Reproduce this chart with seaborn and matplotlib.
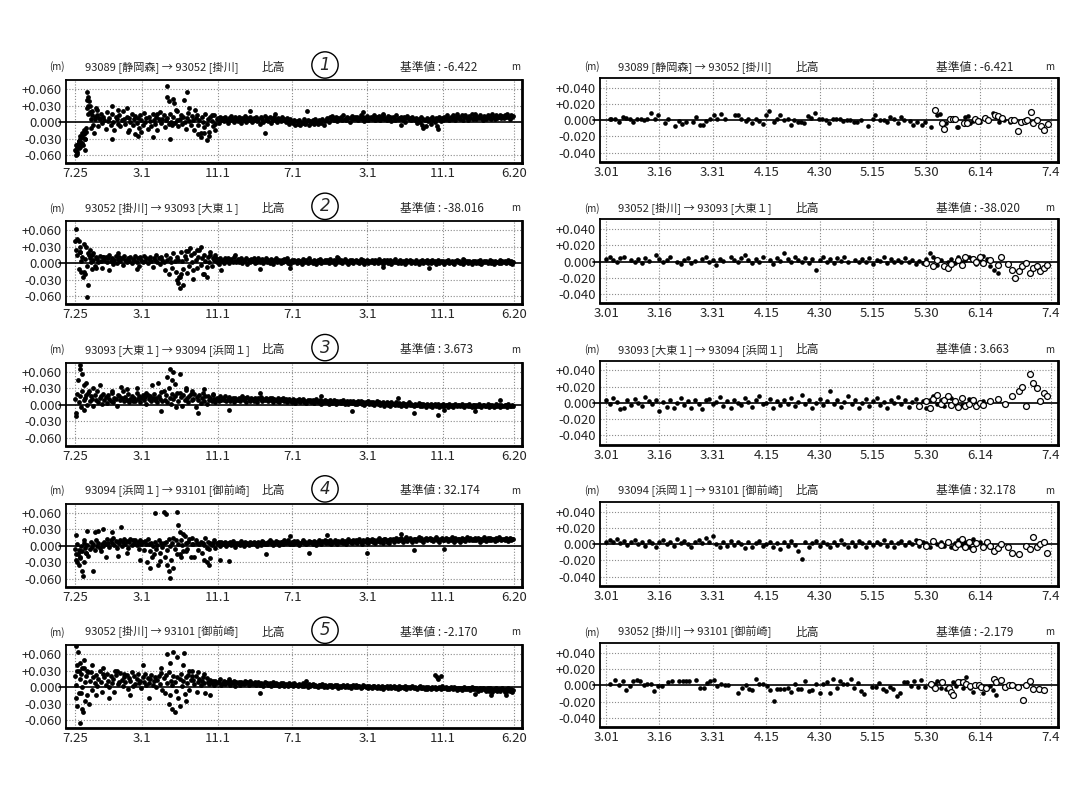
import numpy as np
import pandas as pd
import matplotlib
matplotlib.use("Agg")
import matplotlib.pyplot as plt
import seaborn as sns

# ------------------------------------------------------------------ data
LEFT_START = "1997-07-25"
LEFT_END = "2001-06-20"
LEFT_TICK_DATES = ["1997-07-25", "1998-03-01", "1998-11-01", "1999-07-01",
                   "2000-03-01", "2000-11-01", "2001-06-20"]
LEFT_TICK_LABELS = ["7.25", "3.1", "11.1", "7.1", "3.1", "11.1", "6.20"]
RIGHT_START = "2001-03-01"
RIGHT_TICK_DATES = ["2001-03-01", "2001-03-16", "2001-03-31", "2001-04-15", "2001-04-30",
                    "2001-05-15", "2001-05-30", "2001-06-14", "2001-07-04"]
RIGHT_TICK_LABELS = ["3.01", "3.16", "3.31", "4.15", "4.30", "5.15", "5.30", "6.14", "7.4"]
LEFT_YTICKS = [-0.06, -0.03, 0.0, 0.03, 0.06]
LEFT_YTICK_LABELS = ["-0.060", "-0.030", "0.000", "+0.030", "+0.060"]
RIGHT_YTICKS = [-0.04, -0.02, 0.0, 0.02, 0.04]
RIGHT_YTICK_LABELS = ["-0.040", "-0.020", "0.000", "+0.020", "+0.040"]

routes = ["93089 [静岡森] → 93052 [掛川]",
          "93052 [掛川] → 93093 [大東１]",
          "93093 [大東１] → 93094 [浜岡１]",
          "93094 [浜岡１] → 93101 [御前崎]",
          "93052 [掛川] → 93101 [御前崎]"]
left_base = ["-6.422", "-38.016", "3.673", "32.174", "-2.170"]
right_base = ["-6.421", "-38.020", "3.663", "32.178", "-2.179"]
panel_marks = ["1", "2", "3", "4", "5"]

LEFT_STEP_DAYS = 4  # bulk series: one value every 4 days (mm)

p1_bulk = [-50,-42,-55,-35,-45,-28,-38,-20,-30,-10,40,15,
           30,5,20,-5,10,25,12,-8,6,15,-2,9,
           4,-12,18,2,8,-6,14,0,-15,10,5,-3,
           12,-8,3,20,6,-4,9,-18,7,1,15,-6,
           5,11,-2,8,-10,13,3,-5,16,0,7,-12,
           10,2,-7,14,4,-3,9,-14,6,18,-1,5,
           12,-9,3,8,-4,15,1,-6,10,-2,22,4,
           -8,6,13,-3,9,0,-12,7,17,2,-5,11,
           3,-15,8,12,-6,4,-20,10,1,-9,14,-3,
           6,-18,9,2,-7,12,-4,5,8,-2,10,3,
           7,2,10,4,-1,8,3,11,5,0,9,6,
           2,10,5,-2,8,4,11,1,7,3,9,5,
           0,8,4,10,2,6,-3,9,5,1,11,4,
           7,2,9,-1,6,3,10,4,0,8,5,2,
           9,4,6,0,7,3,-4,5,1,-2,4,-5,
           2,-3,4,-6,1,-2,5,-4,0,3,-5,2,
           -1,4,-3,6,0,-4,3,1,-2,5,-6,2,
           4,8,1,9,5,11,3,7,10,2,8,6,
           9,4,12,6,3,10,7,1,8,11,5,9,
           6,10,3,8,12,5,9,2,7,11,4,8,
           10,5,7,13,3,9,6,11,4,8,12,6,
           8,3,11,6,9,2,10,7,4,12,5,8,
           6,10,4,9,1,7,11,5,8,3,10,6,
           4,8,-2,6,1,9,-6,5,3,-8,7,2,
           6,-4,9,3,0,7,-7,5,10,2,8,4,
           9,5,12,7,3,10,6,13,8,4,11,7,
           10,6,13,4,9,12,7,3,11,8,14,6,
           9,12,5,10,7,13,8,4,11,9,6,12,
           8,11,6,14,9,5,12,7,10,13,8,11,
           7,12,9,14,10,6,13,9,11]
p1_extra = [(2,-60),(4,-52),(6,-45),(8,-58),(10,-40),(12,-35),(14,-48),(16,-30),(18,-25),
            (20,-38),(22,-28),(24,-20),(26,-42),(28,-22),(30,-15),(32,-30),(34,-50),(36,-18),
            (38,25),(40,55),(42,45),(44,30),(46,38),(48,18),(52,-10),(56,12),(62,-20),(66,5),
            (72,22),(78,8),(120,30),(122,-30),(140,22),(168,25),(175,-15),(195,-22),(205,-25),
            (215,-18),(253,-28),(265,15),(300,65),(298,45),(304,38),(310,-30),(318,42),(322,35),
            (330,20),(355,40),(365,55),(372,25),(390,22),(400,-22),(408,-28),(420,-20),(430,-33),
            (436,-25),(445,12),(455,-15),(568,20),(617,-20),(650,15),(753,20),(935,18),(1000,15),
            (1060,-5),(1130,-10),(1180,-12),(1240,15),(1300,14)]

p2_bulk = [40,25,15,-10,20,5,12,-15,8,30,-5,18,
           10,3,15,6,-5,12,8,2,14,5,-8,11,
           7,12,3,9,15,4,10,-2,6,13,1,8,
           11,4,9,-3,14,7,2,10,5,12,0,8,
           6,13,3,9,-4,11,7,2,14,5,10,1,
           8,12,4,-6,10,6,15,2,9,-2,11,7,
           3,-12,15,6,-20,10,2,-8,18,5,-15,12,
           6,-25,20,4,-10,14,8,-18,22,-5,15,3,
           -12,18,6,-8,12,25,-3,10,-20,16,4,-6,
           12,3,15,-4,9,6,11,2,8,-2,10,5,
           7,1,9,4,10,0,6,8,2,11,5,3,
           8,2,6,10,1,7,4,9,-1,6,3,8,
           5,9,1,7,3,10,2,6,8,0,5,9,
           3,7,1,8,4,-1,6,9,2,5,7,0,
           6,2,8,4,9,1,5,-2,7,3,6,4,
           1,7,3,5,-1,8,4,2,6,0,9,3,
           5,1,7,4,-2,6,3,8,1,5,2,7,
           3,6,0,8,4,2,7,-1,5,3,9,2,
           6,1,4,8,2,5,-1,7,3,6,0,4,
           7,2,5,1,8,3,6,-2,4,7,1,5,
           2,6,3,0,7,4,1,8,2,5,-1,6,
           3,7,1,4,6,-1,5,2,8,3,0,4,
           6,1,5,3,-2,7,2,4,6,0,5,3,
           1,6,3,-1,5,2,7,0,4,3,6,1,
           4,0,6,2,5,-2,3,7,1,4,2,5,
           -1,4,2,6,0,3,5,1,-2,4,6,2,
           5,1,3,-1,6,2,4,0,5,3,-2,4,
           2,5,0,4,1,6,-1,3,5,2,4,0,
           3,6,1,4,-2,5,2,3,0,6,1,4,
           2,5,0,3,6,1,4,-1,3]
p2_extra = [(3,62),(8,45),(12,40),(15,30),(18,20),(20,-15),(25,-25),(28,35),(32,-20),(38,-62),
            (42,-40),(45,15),(50,25),(55,-10),(60,18),(70,-8),(90,12),(110,-12),(140,18),(200,-10),
            (330,-30),(335,-35),(340,-45),(338,-25),(345,-20),(350,-40),(360,22),(375,28),(385,-28),
            (395,25),(410,30),(420,-20),(430,-25),(440,20),(455,15),(475,-12),(520,15),(600,-10),
            (700,-8),(850,12),(1000,-6),(1150,-8),(1260,8)]

p3_bulk = [10,-15,20,5,15,-5,25,8,12,18,0,22,
           6,15,10,-3,18,8,24,4,12,16,2,20,
           9,14,3,18,11,7,22,5,13,10,-2,17,
           16,8,12,24,6,14,9,19,4,11,15,7,
           13,7,21,10,15,5,12,18,8,14,2,17,
           10,16,6,13,20,9,12,4,15,11,23,7,
           25,8,18,5,30,12,2,20,10,15,-4,22,
           6,22,14,-2,18,9,26,12,4,16,20,8,
           10,20,-5,14,8,18,3,12,22,7,15,1,
           15,9,12,6,17,10,4,13,11,7,16,9,
           12,9,15,6,11,14,7,10,13,5,12,9,
           9,13,6,11,15,8,12,5,14,10,7,13,
           11,7,13,9,5,12,10,14,6,11,8,12,
           10,6,12,8,13,5,11,9,7,12,4,10,
           8,12,6,10,4,9,11,7,5,10,8,3,
           9,6,10,4,8,11,5,7,3,9,6,8,
           5,9,3,7,10,4,6,8,2,7,5,9,
           4,7,2,8,5,3,9,6,1,6,4,7,
           3,6,8,2,5,7,1,6,4,3,7,2,
           5,1,6,3,7,2,4,0,5,3,6,1,
           4,2,5,-1,3,6,1,4,0,3,5,-2,
           2,4,0,3,-2,5,1,2,-1,4,0,3,
           1,-2,3,0,2,-3,1,4,-1,2,0,-2,
           2,-1,0,3,-3,1,-2,2,0,-4,1,-1,
           -2,1,-4,0,2,-3,-1,1,-5,0,-2,1,
           -3,0,-1,-4,2,-2,0,-5,-1,1,-3,-1,
           0,-3,1,-2,-4,0,-1,-3,2,-2,-5,0,
           -1,-4,0,-2,1,-3,-5,-1,0,-3,-2,1,
           -4,-1,-2,0,-5,-2,1,-3,-1,-4,0,-2,
           -3,0,-1,-4,1,-2,-3,0,-2]
p3_extra = [(5,-20),(10,45),(15,65),(18,72),(22,55),(28,35),(30,-10),(35,40),(45,25),(60,30),
            (80,35),(120,25),(150,32),(170,28),(200,30),(230,22),(250,35),(270,40),(280,-12),
            (300,50),(310,65),(315,45),(320,60),(325,38),(340,55),(360,30),(380,25),(400,-15),
            (420,28),(450,20),(500,-10),(600,22),(800,15),(900,-12),(1050,12),(1100,-15),
            (1180,-18),(1200,-10),(1300,-12),(1380,8)]

p4_bulk = [-5,-15,3,-8,-20,0,-10,5,-3,-12,2,-18,
           -6,8,-2,4,-8,10,0,6,-4,-10,3,-1,
           8,3,12,5,-2,10,6,14,2,9,-3,7,
           5,11,0,8,13,4,9,-3,7,12,1,10,
           6,10,2,8,-5,11,4,7,-8,9,3,12,
           3,-10,6,0,-15,8,-5,2,10,-12,5,-2,
           5,-20,8,-8,12,0,-25,6,15,-5,10,-14,
           3,-15,10,2,-10,18,5,-6,8,12,-20,4,
           4,-20,10,6,-8,3,8,-12,5,2,14,-4,
           7,-6,6,1,5,10,-3,6,4,7,-1,8,
           3,5,8,-1,6,4,7,1,9,3,-2,6,
           6,4,2,9,5,-1,8,4,6,2,7,3,
           5,8,3,6,-1,8,5,2,9,7,4,6,
           4,8,10,5,7,1,6,9,5,7,2,8,
           8,4,10,5,7,11,6,3,8,4,9,6,
           9,6,1,5,7,10,6,8,3,5,9,7,
           8,4,9,7,2,8,10,6,3,9,7,11,
           6,9,5,10,3,8,7,11,6,4,9,7,
           8,11,6,9,4,8,12,7,9,5,10,8,
           11,6,9,12,8,4,10,9,7,12,6,10,
           9,12,7,10,5,11,9,14,8,10,6,12,
           12,8,11,6,13,10,12,7,11,15,9,12,
           10,14,8,11,12,16,9,12,14,10,7,13,
           13,9,12,16,10,14,11,8,13,15,10,12,
           15,11,13,9,12,16,10,13,8,12,15,11,
           11,15,12,9,13,10,16,12,8,14,11,13,
           12,8,14,11,13,9,16,12,10,15,11,13,
           10,14,11,15,12,8,13,11,16,12,9,14,
           11,15,10,13,12,9,14,11,16,12,10,13,
           13,10,14,12,9,15,11,13,12]
p4_extra = [(2,-25),(5,20),(8,-30),(10,-15),(12,-35),(15,-22),(18,-10),(22,-45),(25,-55),(28,-30),
            (30,10),(35,-12),(40,28),(60,-45),(65,25),(75,28),(90,30),(100,-20),(120,25),(140,-18),
            (150,35),(170,-12),(210,-25),(235,-30),(245,-40),(250,-20),(260,60),(270,-35),
            (275,-28),(290,62),(295,58),(300,-35),(305,-45),(310,-58),(320,-40),(330,62),(335,38),
            (340,25),(345,-20),(350,22),(360,-10),(380,15),(420,-25),(430,-30),(435,-35),(440,-22),
            (470,-25),(500,-28),(620,-15),(700,18),(760,-12),(820,20),(950,-12),(1060,22),
            (1100,-8),(1200,-5)]

p5_bulk = [20,5,30,-10,15,25,0,35,10,20,-15,28,
           12,28,-5,18,8,22,3,15,30,10,-8,24,
           18,5,25,12,0,20,8,15,-8,22,30,6,
           10,26,14,3,18,9,22,-4,16,11,28,2,
           20,6,15,24,8,12,-2,18,10,25,5,16,
           8,15,22,4,12,18,0,14,20,6,26,-5,
           16,-10,22,8,28,-15,12,5,20,10,-6,18,
           -20,15,25,3,12,-12,18,8,22,-5,14,30,
           14,6,20,-8,10,15,4,12,18,7,-10,16,
           10,6,13,8,11,5,12,7,9,10,15,4,
           8,11,6,10,7,12,5,9,8,11,3,10,
           7,10,5,9,8,6,11,7,9,5,12,6,
           8,6,10,4,7,9,5,8,6,3,9,7,
           7,5,8,3,6,9,4,7,5,6,2,8,
           4,7,3,6,5,2,7,4,6,3,8,5,
           5,2,6,4,3,7,2,5,4,1,6,3,
           4,6,2,5,3,1,5,4,2,6,0,5,
           3,1,5,2,4,0,3,5,2,4,-1,3,
           1,3,5,0,2,4,1,3,-1,2,4,0,
           4,0,2,3,-1,1,4,2,0,3,-2,2,
           1,-1,3,2,0,-2,2,1,-1,3,-3,1,
           0,2,-1,1,3,-2,0,2,-1,1,-4,2,
           -2,1,0,-1,2,-3,0,1,-2,0,3,-1,
           1,-1,-3,0,2,-2,-1,1,-3,0,-4,1,
           -1,-3,0,-2,1,-4,-1,-2,0,-3,2,-2,
           -2,0,-4,-1,-3,1,-2,-4,0,-1,-5,-2,
           -3,-1,-5,-2,0,-3,-4,-1,-2,-5,1,-3,
           -2,-4,-1,-6,-3,-2,-5,-1,-4,-3,-7,-2,
           -6,-2,-4,-8,-3,-5,-1,-6,-3,-7,-4,-2,
           -5,-8,-3,-6,-2,-7,-4,-9,-5]
p5_extra = [(2,75),(4,-20),(6,40),(8,-35),(10,65),(14,30),(16,-65),(18,45),(20,-10),(22,-40),
            (24,35),(26,-45),(30,50),(34,-25),(40,30),(45,-30),(55,40),(70,-15),(90,35),(110,-20),
            (130,30),(160,25),(180,-15),(220,40),(240,-20),(280,35),(300,60),(305,-30),(310,45),
            (315,-40),(320,65),(325,-45),(330,55),(340,-35),(350,40),(355,62),(360,-25),(370,30),
            (380,20),(400,28),(420,25),(440,-15),(500,15),(600,-10),(750,12),(1170,22),(1175,18),
            (1180,15),(1190,20),(1300,-12),(1350,-15),(1400,-14)]

# right panels: (day since 3.01, mm); filled = solid dots, open = open circles
r1_fill = [(1,2),(1.5,2),(2.5,2),(3.7,-2),(4.7,4),(5.6,3),(6.7,2),(7.6,-2),(8.8,1),(9.8,2),(10.8,0),
           (11.6,2),(12.5,9),(13.7,2),(14.7,7),(16.5,-3),(17.5,2),(19.4,-7),(20.4,-1),(21.4,-5),
           (22.4,-2),(24.5,-2),(25.3,4),(26.3,-6),(27.3,-6),(28.2,-1),(29.2,2),(30.2,7),(31.2,2),
           (32.2,8),(33.3,2),(36.1,7),(37.1,6),(38,2),(39.2,-1),(40,2),(41,-4),(42,1),(43.1,-1),
           (44.1,-5),(44.9,6),(45.9,11),(47.1,-2),(48,2),(49,7),(50,0),(51,2),(52,-6),(52.9,0),
           (53.9,-2),(54.7,-2),(55.7,-3),(56.7,5),(57.6,3),(58.8,9),(59.8,2),(60.8,1),(61.8,0),
           (62.7,-3),(63.7,2),(64.7,2),(65.7,1),(66.7,-1),(67.6,0),(68.6,0),(69.6,-2),(70.6,-2),
           (71.6,0),(73.7,-7),(75,1),(75.7,7),(77,0),(78,0),(78.9,-2),(79.9,4),(80.9,2),(81.9,-3),
           (82.9,4),(83.8,0),(85.3,-1),(86.3,-6),(87.3,-2),(88.7,-6),(89.7,-2),(91.4,-8),(93,6),
           (93.9,8),(94.6,-6),(95.6,-3),(98.5,-8),(99,-8),(100.8,4),(101.7,5),(102.3,-3),
           (103.2,-1),(105,-2),(108.6,9),(110.5,-2),(111.8,0),(113.5,-2)]
r1_open = [(92.5,13),(94.3,-4),(95.1,-11),(96.7,1),(97.5,2),(98,1),(100.5,-3),(101.5,-3),(103.7,1),
           (104.4,-1),(106.4,3),(107.4,0),(109.3,7),(110.2,5),(111.3,3),(113.7,0),(114.7,0),
           (115.7,-13),(116.7,-2),(117.8,-1),(118.4,0),(119.5,10),(120.1,-3),(121,0),(122.3,-7),
           (123.2,-12),(124.2,-5)]

r2_fill = [(0,3),(1,5),(2,2),(3,-1),(4,4),(5,6),(7,2),(8,0),(9,3),(10,-2),(11,4),(12,1),(14,8),
           (15,3),(16,-1),(17,2),(18,5),(20,0),(21,-3),(22,2),(23,4),(24,-2),(25,1),(27,3),(28,6),
           (29,0),(30,2),(31,-4),(32,3),(33,1),(35,5),(36,2),(37,-1),(38,4),(39,8),(40,2),(41,-2),
           (42,3),(43,0),(44,5),(46,2),(47,-3),(48,4),(49,1),(50,10),(51,3),(52,-1),(53,6),(54,2),
           (55,0),(56,4),(57,-2),(58,3),(59,-10),(60,2),(61,5),(62,0),(63,3),(64,-2),(65,4),(66,1),
           (67,6),(68,0),(70,2),(71,-1),(72,3),(73,0),(74,4),(75,-3),(76,2),(77,1),(78,5),(79,-2),
           (80,3),(81,0),(82,2),(83,-1),(84,4),(85,0),(86,2),(87,-3),(88,1),(89,-2),(90,3),(91,10),
           (92,6),(93,-4),(94,2),(95,-5),(96,0),(97,3),(98,-2),(99,5),(100,-1),(101,2),(102,6),
           (103,4),(104,-3),(105,1),(106,7),(107,3),(108,-6),(109,-10),(110,-14)]
r2_open = [(90,-2),(92,-6),(93,2),(95,-5),(96,-8),(97,-3),(99,2),(100,-4),(101,6),(103,3),(104,0),
           (105,5),(106,-2),(108,2),(110,-4),(111,5),(113,-3),(114,-10),(115,-20),(116,-12),
           (117,-6),(118,-2),(119,-14),(120,-8),(121,-5),(122,-12),(123,-8),(124,-4)]

r3_fill = [(0,4),(1,-2),(2,6),(3,1),(4,-8),(5,-6),(6,3),(7,-3),(8,5),(9,0),(10,-4),(11,7),(12,2),
           (13,-2),(14,4),(15,-10),(16,1),(17,-5),(18,3),(19,-7),(20,0),(21,6),(22,-3),(23,2),
           (24,-6),(25,4),(26,-1),(27,-8),(28,3),(29,5),(30,-2),(31,1),(32,7),(33,-4),(34,2),
           (35,-6),(36,4),(37,0),(38,-3),(39,6),(40,1),(41,-5),(42,3),(43,8),(44,-2),(45,0),(46,5),
           (47,-7),(48,2),(49,-3),(50,4),(51,-1),(52,6),(53,-4),(54,1),(55,9),(56,-2),(57,3),
           (58,-6),(59,0),(60,5),(61,-3),(62,2),(63,14),(64,-1),(65,4),(66,-5),(67,1),(68,8),
           (69,-2),(70,3),(71,-7),(72,0),(73,5),(74,-4),(75,2),(76,6),(77,-3),(78,1),(79,-6),
           (80,4),(81,0),(82,7),(83,-2),(84,3),(85,-5),(86,1),(87,5),(88,-3),(89,2),(90,-6),(91,4),
           (92,8),(93,-1),(94,3),(95,-4),(97,6),(98,0),(100,-3),(102,5),(104,-2),(106,2)]
r3_open = [(88,-4),(90,2),(91,-6),(92,5),(93,10),(94,-2),(95,4),(96,8),(97,-3),(98,2),(99,-5),
           (100,6),(101,-4),(102,-2),(103,4),(104,-4),(105,0),(106,-3),(108,2),(110,5),(112,-2),
           (114,8),(116,15),(117,20),(118,-4),(119,35),(120,25),(121,18),(122,2),(123,12),(124,8)]

r4_fill = [(0,2),(1,5),(2,3),(3,6),(4,1),(5,4),(6,-1),(7,2),(8,5),(9,0),(10,3),(11,-2),(12,4),(13,1),
           (14,-3),(15,2),(16,5),(17,0),(18,3),(19,-2),(20,6),(21,1),(22,4),(23,0),(24,-3),(25,2),
           (26,5),(27,1),(28,8),(29,3),(30,10),(31,0),(32,-4),(33,2),(34,-2),(35,4),(36,-1),(37,3),
           (38,0),(39,-5),(40,2),(41,-3),(42,1),(43,4),(44,-2),(45,0),(46,3),(47,-4),(48,1),(49,-6),
           (50,2),(51,-2),(52,4),(53,-1),(54,-8),(55,-18),(56,2),(57,-3),(58,1),(59,4),(60,-2),
           (61,3),(62,0),(63,-4),(64,2),(65,-1),(66,5),(67,0),(68,-3),(69,2),(70,-2),(71,4),(72,1),
           (73,-3),(74,3),(75,-1),(76,2),(77,0),(78,5),(79,-2),(80,3),(81,-4),(82,1),(83,4),(84,-1),
           (85,2),(86,0),(87,5),(88,-2),(89,3),(90,1),(91,-3),(92,4),(93,0),(94,2),(95,-2),(96,3),
           (97,-4),(98,1),(99,5),(100,-1),(101,2),(102,-3),(103,6),(104,0),(105,3)]
r4_open = [(88,2),(90,-2),(92,4),(94,-1),(96,3),(98,-4),(99,0),(100,6),(101,-3),(102,2),(103,-6),
           (104,1),(106,-4),(107,3),(108,-2),(109,-8),(110,-5),(111,0),(113,-4),(114,-11),(116,-12),
           (118,-2),(119,-6),(120,9),(121,-4),(122,0),(123,2),(124,-11)]

r5_fill = [(1.0,2),(2.5,7),(3.7,1),(4.7,6),(5.7,-6),(6.7,-1),(7.7,5),(8.7,7),(9.6,6),(10.6,1),
           (11.6,2),(12.6,2),(13.6,-7),(14.6,-1),(15.6,-1),(17.5,4),(18.5,5),(20.5,5),(21.5,5),
           (22.4,5),(23.4,5),(25.4,7),(26.4,-3),(27.4,-3),(28.3,3),(29.3,5),(30.3,7),(31.3,-1),
           (32.3,2),(33.3,0),(34.4,0),(37.2,-9),(38.2,-3),(39.2,1),(40.2,-5),(41.1,-6),(42.1,8),
           (43.1,2),(44.1,2),(45.3,-1),(46.1,-6),(47.1,-19),(48.0,-4),(49.0,-5),(50.0,-4),
           (51.0,-3),(52.0,-8),(53.0,2),(53.9,-5),(54.9,-5),(55.9,5),(56.9,-7),(57.9,-6),(59.1,2),
           (60.0,-9),(61.0,2),(62.0,4),(62.8,-9),(63.8,8),(64.8,-3),(65.7,5),(66.7,2),(67.7,2),
           (68.7,8),(69.7,-3),(70.7,3),(71.7,-7),(72.6,-10),(74.8,-2),(75.8,-2),(76.8,3),(77.8,-5),
           (78.7,-7),(79.7,-2),(80.7,-4),(81.7,-13),(82.7,-9),(83.7,4),(84.6,4),(85.6,-1),(86.6,6),
           (87.6,-2),(88.6,7),(89.6,-2),(91.5,-1),(92.3,2),(93.0,5),(94.0,-3),(95.5,-5),(97.4,4),
           (98.4,-1),(99.4,5),(100.4,-3),(101.2,10),(102.2,-3),(103.1,-8),(105.1,-2),(105.8,-9),
           (106.8,-4),(107.8,-1),(108.8,-6),(109.7,-12)]
r5_open = [(91.3,2),(92.5,-3),(94.5,4),(96.3,-3),(97.0,-8),(97.4,-12),(98.9,4),(100.2,4),(101.2,2),
           (102.2,-1),(103.8,0),(104.8,1),(105.3,-2),(106.8,-3),(109.1,8),(109.7,4),(111.0,7),
           (112.2,-2),(113.2,0),(114.2,0),(115.9,-2),(117.1,-18),(118.1,0),(119.1,5),(120.1,-4),
           (121.6,-5),(123.0,-6)]

left_bulk = [p1_bulk, p2_bulk, p3_bulk, p4_bulk, p5_bulk]
left_extra = [p1_extra, p2_extra, p3_extra, p4_extra, p5_extra]
right_fill = [r1_fill, r2_fill, r3_fill, r4_fill, r5_fill]
right_open = [r1_open, r2_open, r3_open, r4_open, r5_open]

# ------------------------------------------------------------------ style
sns.set_style("white")
plt.rcParams['font.family'] = ['Noto Sans CJK JP', 'DejaVu Sans']
plt.rcParams['axes.unicode_minus'] = False

W, H = 1090, 802
fig = plt.figure(figsize=(W / 100, H / 100), dpi=100)
fig.patch.set_facecolor("white")


def rect(x0, x1, top, bottom):
    return [x0 / W, 1 - bottom / H, (x1 - x0) / W, (bottom - top) / H]


def days_since(dates, start):
    return np.asarray((pd.to_datetime(dates) - pd.Timestamp(start)).days, dtype=float)


left_ticks = days_since(LEFT_TICK_DATES, LEFT_START)
left_span = float((pd.Timestamp(LEFT_END) - pd.Timestamp(LEFT_START)).days)
right_ticks = days_since(RIGHT_TICK_DATES, RIGHT_START)
right_span = right_ticks[-1]

GRID = dict(color="#8a8a8a", linestyle=(0, (1, 1.6)), linewidth=0.8)


def style_axes(ax, xticks, xlabels, yticks, ylabels, xlim, ylim):
    ax.set_xlim(*xlim)
    ax.set_ylim(*ylim)
    ax.set_xticks(xticks)
    ax.set_xticklabels(xlabels, fontsize=9.5)
    ax.set_yticks(yticks)
    ax.set_yticklabels(ylabels, fontsize=9.5)
    ax.tick_params(length=0, pad=3)
    for xv in xticks:
        ax.axvline(xv, zorder=0, **GRID)
    for yv in yticks:
        if yv != 0:
            ax.axhline(yv, zorder=0, **GRID)
    ax.axhline(0, color="black", linewidth=1.2, zorder=1, xmin=-0.015, clip_on=False)
    ax.set_xlabel("")
    ax.set_ylabel("")
    for side, sp in ax.spines.items():
        sp.set_visible(True)
        sp.set_color("black")
        sp.set_linewidth(2.0 if side in ("right", "bottom") else 1.3)
    ax.set_facecolor("white")


SPACING = 141.3
for k in range(5):
    off = k * SPACING
    # ---------------- left (long term) panel
    axL = fig.add_axes(rect(66, 522, 80 + off, 163 + off))
    bulk = np.array(left_bulk[k], dtype=float)
    bulk_days = np.arange(len(bulk)) * LEFT_STEP_DAYS
    extra = np.array(left_extra[k], dtype=float)
    dfL = pd.DataFrame({
        "day": np.concatenate([bulk_days, extra[:, 0]]),
        "value": np.concatenate([bulk, extra[:, 1]]) / 1000.0,
    })
    sns.scatterplot(data=dfL, x="day", y="value", ax=axL, color="black",
                    s=12, linewidth=0, zorder=3)
    style_axes(axL, left_ticks, LEFT_TICK_LABELS, LEFT_YTICKS, LEFT_YTICK_LABELS,
               (-29, left_span + 26), (-0.0745, 0.0765))

    # ---------------- right (recent) panel
    axR = fig.add_axes(rect(600, 1058, 78 + off, 162 + off))
    f = np.array(right_fill[k], dtype=float)
    o = np.array(right_open[k], dtype=float)
    sns.scatterplot(x=f[:, 0], y=f[:, 1] / 1000.0, ax=axR, color="black",
                    s=11, linewidth=0, zorder=3)
    sns.scatterplot(x=o[:, 0], y=o[:, 1] / 1000.0, ax=axR, facecolor="white",
                    edgecolor="black", s=18, linewidth=0.9, zorder=4)
    style_axes(axR, right_ticks, RIGHT_TICK_LABELS, RIGHT_YTICKS, RIGHT_YTICK_LABELS,
               (-1.7, right_span + 2.0), (-0.0515, 0.052))

    # ---------------- header texts
    ty = 1 - (67 + off) / H
    fs = 8.5
    fs_route = 8
    fig.text(57 / W, ty, "(m)", fontsize=7, ha="center", va="center")
    fig.text(85 / W, ty, routes[k], fontsize=fs_route, ha="left", va="center")
    fig.text(262 / W, ty, "比高", fontsize=fs, ha="left", va="center")
    fig.text(400 / W, ty, "基準値 : " + left_base[k], fontsize=fs, ha="left", va="center")
    fig.text(516 / W, ty, "m", fontsize=7, ha="center", va="center")
    fig.text(325 / W, 1 - (65 + off) / H, panel_marks[k], fontsize=12, ha="center",
             va="center", family="DejaVu Sans", style="italic",
             bbox=dict(boxstyle="circle,pad=0.25", fc="none", ec="black", lw=1.0))

    fig.text(592 / W, ty, "(m)", fontsize=7, ha="center", va="center")
    fig.text(618 / W, ty, routes[k], fontsize=fs_route, ha="left", va="center")
    fig.text(796 / W, ty, "比高", fontsize=fs, ha="left", va="center")
    fig.text(936 / W, ty, "基準値 : " + right_base[k], fontsize=fs, ha="left", va="center")
    fig.text(1050 / W, ty, "m", fontsize=7, ha="center", va="center")

fig.savefig("out.png", dpi=100, facecolor="white")
